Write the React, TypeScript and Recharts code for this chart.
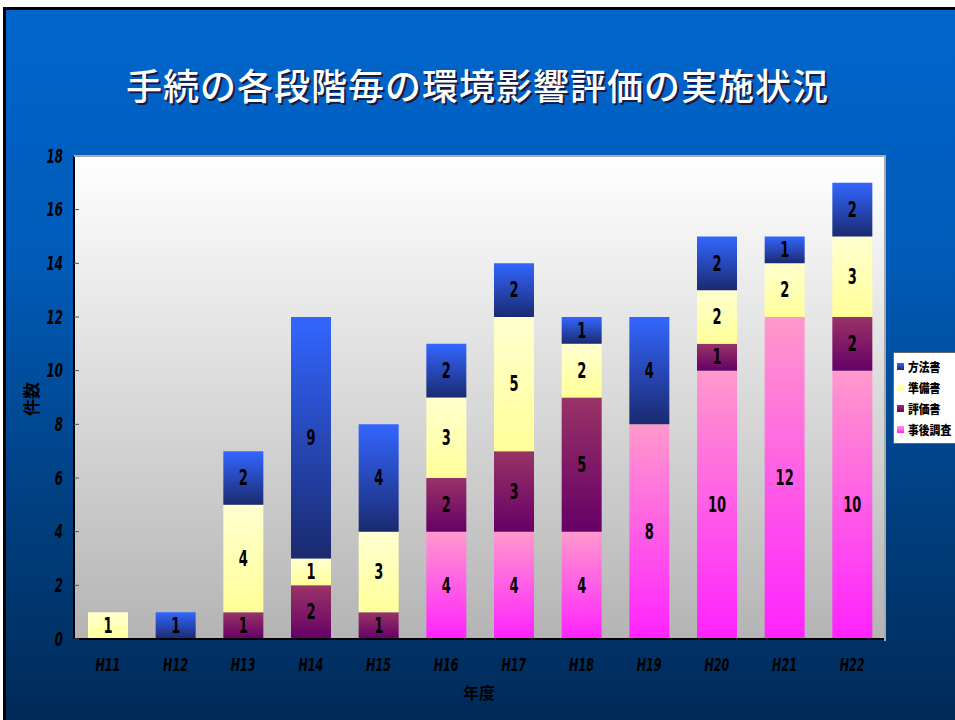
import { BarChart, Bar, XAxis, YAxis, CartesianGrid, LabelList } from 'recharts';

const years = ['H11', 'H12', 'H13', 'H14', 'H15', 'H16', 'H17', 'H18', 'H19', 'H20', 'H21', 'H22'];
// 事後調査 / 評価書 / 準備書 / 方法書 (bottom to top)
const jigo = [null, null, null, null, null, 4, 4, 4, 8, 10, 12, 10];
const hyoka = [null, null, 1, 2, 1, 2, 3, 5, null, 1, null, 2];
const junbi = [1, null, 4, 1, 3, 3, 5, 2, null, 2, 2, 3];
const hoho = [null, 1, 2, 9, 4, 2, 2, 1, 4, 2, 1, 2];
const yTicks = [0, 2, 4, 6, 8, 10, 12, 14, 16, 18];

const data = years.map((name, i) => ({
  name,
  jigo: jigo[i],
  hyoka: hyoka[i],
  junbi: junbi[i],
  hoho: hoho[i],
}));

const series = [
  { key: 'jigo', name: '事後調査', grad: 'gPink', top: '#ff99cc', bottom: '#ff22ff' },
  { key: 'hyoka', name: '評価書', grad: 'gPurple', top: '#993366', bottom: '#660066' },
  { key: 'junbi', name: '準備書', grad: 'gYellow', top: '#ffffd0', bottom: '#ffff99' },
  { key: 'hoho', name: '方法書', grad: 'gBlue', top: '#3366ff', bottom: '#1a2a70' },
];

const font = '"DejaVu Sans", "Noto Sans CJK JP", sans-serif';
const jp = '"Noto Sans CJK JP", sans-serif';

// narrow text: squeeze horizontally like the original condensed face
const Narrow = ({ x, y, children, size, italic, anchor = 'middle' }: any) => (
  <text
    transform={`translate(${x},${y}) scale(0.62,1)`}
    textAnchor={anchor}
    dominantBaseline="central"
    fontFamily={font}
    fontStyle={italic ? 'italic' : 'normal'}
    fontWeight="bold"
    fontSize={size}
    fill="#000"
  >
    {children}
  </text>
);

const YTick = ({ y, payload }: any) => (
  <g>
    <line x1={74} x2={79} y1={y} y2={y} stroke="#555" strokeWidth={1} />
    <Narrow x={63} y={y} size={19} italic anchor="end">{payload.value}</Narrow>
  </g>
);

const XTick = ({ x, payload }: any) => <Narrow x={x} y={665} size={18} italic>{payload.value}</Narrow>;

const SegLabel = ({ x, y, width, height, value }: any) =>
  value ? <Narrow x={x + width / 2} y={y + height / 2} size={21}>{value}</Narrow> : null;

const LegendBox = () => (
  <div style={{ position: 'absolute', left: 893, top: 352, background: '#fff', border: '1px solid #666', padding: '3px 0 3px 3px', width: 70 }}>
    {[...series].reverse().map((s) => (
      <div key={s.key} style={{ display: 'flex', alignItems: 'center', height: 21 }}>
        <span style={{ width: 7, height: 7, marginRight: 4, background: `linear-gradient(${s.top}, ${s.bottom})` }} />
        <span style={{ fontFamily: jp, fontWeight: 900, fontSize: 12, color: '#000', transform: 'scaleX(0.9)', transformOrigin: 'left' }}>{s.name}</span>
      </div>
    ))}
  </div>
);

export default function App() {
  return (
    <div style={{ position: 'fixed', left: 0, top: 0, width: 955, height: 720, background: '#fff', overflow: 'hidden' }}>
      <div
        style={{
          position: 'absolute',
          left: 3,
          top: 7,
          width: 952,
          height: 713,
          borderTop: '3px solid #000',
          borderLeft: '3px solid #000',
          background: 'linear-gradient(#0066cc 0%, #005bb8 35%, #003f80 70%, #002a58 100%)',
        }}
      />
      <div
        style={{
          position: 'absolute',
          left: 0,
          width: 955,
          top: 60,
          textAlign: 'center',
          fontFamily: jp,
          fontSize: 36,
          fontWeight: 500,
          letterSpacing: 1,
          color: '#fff',
          textShadow: '2px 2px 0 #1a1a40',
          lineHeight: '48px',
        }}
      >
        手続の各段階毎の環境影響評価の実施状況
      </div>
      <div style={{ position: 'absolute', left: 0, top: 0 }}>
        <BarChart width={955} height={720} data={data} margin={{ top: 156, right: 69, bottom: 51, left: 14 }} barSize={40}>
          <defs>
            <linearGradient id="plotBg" x1="0" y1="0" x2="0" y2="1">
              <stop offset="0%" stopColor="#ffffff" />
              <stop offset="100%" stopColor="#b4b4b4" />
            </linearGradient>
            {series.map((s) => (
              <linearGradient key={s.grad} id={s.grad} x1="0" y1="0" x2="0" y2="1">
                <stop offset="0%" stopColor={s.top} />
                <stop offset="100%" stopColor={s.bottom} />
              </linearGradient>
            ))}
          </defs>
          <CartesianGrid fill="url(#plotBg)" stroke="transparent" vertical={false} horizontal={false} />
          <XAxis
            dataKey="name"
            height={30}
            axisLine={{ stroke: '#000', strokeWidth: 2 }}
            tickLine={false}
            tick={<XTick />}
            label={{ value: '年度', position: 'bottom', content: () => (
              <text x={479} y={699} textAnchor="middle" fontFamily={jp} fontWeight="bold" fontSize={16} fill="#000">年度</text>
            ) }}
          />
          <YAxis
            width={60}
            domain={[0, 18]}
            ticks={yTicks}
            interval={0}
            axisLine={{ stroke: '#000', strokeWidth: 2 }}
            tickLine={false}
            tick={<YTick />}
            label={{ value: '件数', content: () => (
              <text x={33} y={399} transform="rotate(-90 33 399)" textAnchor="middle" dominantBaseline="middle" fontFamily={jp} fontWeight="bold" fontSize={17} fill="#000">件数</text>
            ) }}
          />
          {series.map((s) => (
            <Bar key={s.key} dataKey={s.key} name={s.name} stackId="a" fill={`url(#${s.grad})`} isAnimationActive={false}>
              <LabelList dataKey={s.key} content={<SegLabel />} />
            </Bar>
          ))}
        </BarChart>
      </div>
      <div style={{ position: 'absolute', left: 74, top: 155, width: 810, height: 484, borderTop: '2px solid #aaa', borderRight: '2px solid #aaa', pointerEvents: 'none' }} />
      <LegendBox />
    </div>
  );
}
